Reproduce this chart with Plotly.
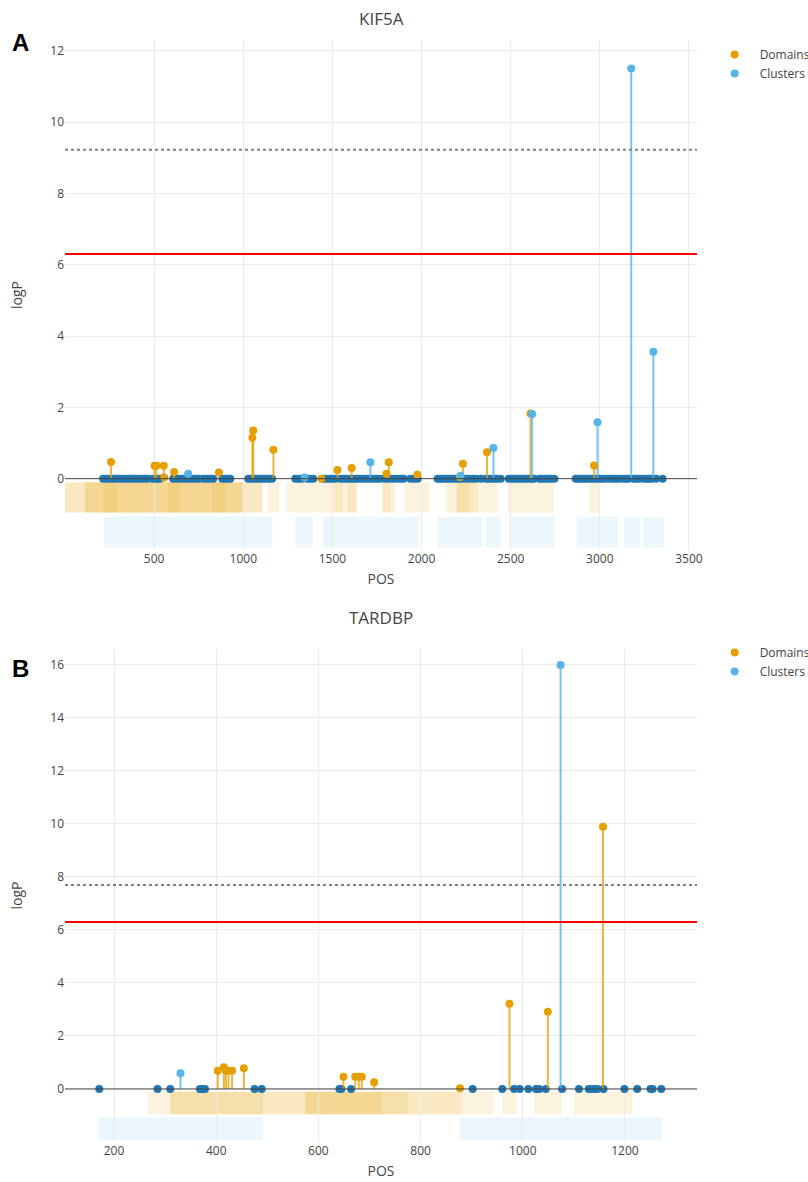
import plotly.graph_objects as go

# ---------------- DATA ----------------
# Panel A: KIF5A
a_base_pos = [214, 232, 250, 268, 286, 304, 322, 340, 358, 376, 394, 412, 430, 448, 461,
              489, 505, 520, 534, 607, 625, 643, 661, 679, 697, 715, 731, 747,
              775, 793, 812, 831, 882, 897, 912, 927, 1028, 1041, 1054, 1067,
              1084, 1100, 1116, 1132, 1148, 1162, 1292, 1310, 1328, 1360, 1377, 1393,
              1449, 1466, 1483, 1500, 1517, 1545, 1562, 1579, 1596, 1613, 1630, 1647,
              1664, 1681, 1698, 1715, 1732, 1749, 1766, 1790, 1810, 1830, 1850, 1870,
              1885, 1899, 1938, 1958, 1978, 2090, 2105, 2120, 2135, 2150, 2165, 2180,
              2195, 2210, 2225, 2245, 2265, 2285, 2303, 2331, 2359, 2375, 2391, 2407,
              2423, 2444, 2489, 2505, 2521, 2537, 2553, 2569, 2585, 2601, 2617, 2629,
              2660, 2676, 2692, 2708, 2725, 2745, 2865, 2880, 2895, 2910, 2925, 2940,
              2955, 2970, 2985, 3000, 3015, 3035, 3055, 3075, 3090, 3105, 3129, 3145,
              3160, 3190, 3205, 3219, 3242, 3258, 3274, 3290, 3315, 3352]
a_dom_pos = [258, 502, 513, 554, 556, 612, 863, 1051, 1056, 1169, 1438, 1528, 1608,
             1803, 1816, 1976, 2215, 2232, 2367, 2611, 2968]
a_dom_val = [0.47, 0.36, 0.36, 0.36, 0.03, 0.19, 0.17, 1.15, 1.35, 0.81, 0.0, 0.24, 0.30,
             0.14, 0.46, 0.11, 0.05, 0.42, 0.74, 1.83, 0.37]
a_clu_pos = [691, 1344, 1713, 2219, 2403, 2620, 2987, 3176, 3300]
a_clu_val = [0.14, 0.03, 0.46, 0.08, 0.86, 1.81, 1.58, 11.5, 3.56]
a_dom_start = [0, 0, 112, 112, 214, 579, 826, 1135, 1242, 1506, 1584, 1781, 1781,
               1904, 2135, 2197, 2197, 2483, 2938]
a_dom_end = [1107, 1107, 994, 994, 292, 646, 899, 1202, 1635, 1556, 1635, 1854, 1826,
             2045, 2427, 2270, 2315, 2742, 3000]
a_clu_start = [219, 1292, 1444, 2090, 2359, 2489, 2871, 3135, 3242]
a_clu_end = [1163, 1393, 1983, 2337, 2444, 2747, 3101, 3224, 3360]
a_sig_dashed = 9.22
a_sig_red = 6.3

# Panel B: TARDBP
b_base_pos = [171, 285, 310, 368, 373, 378, 475, 489, 641, 645, 664, 902, 960, 983, 994,
              1011, 1026, 1029, 1032, 1045, 1077, 1110, 1129, 1135, 1140, 1146, 1158,
              1199, 1224, 1250, 1254, 1271]
b_dom_pos = [403, 415, 419, 424, 431, 454, 649, 672, 679, 685, 709, 877, 974, 1049, 1157]
b_dom_val = [0.69, 0.82, 0.69, 0.69, 0.69, 0.78, 0.46, 0.46, 0.46, 0.46, 0.25, 0.03,
             3.22, 2.91, 9.89]
b_clu_pos = [330, 1074]
b_clu_val = [0.59, 16.0]
b_dom_start = [265, 310, 310, 574, 574, 959, 1022, 1100]
b_dom_end = [943, 880, 492, 776, 724, 988, 1077, 1214]
b_clu_start = [169, 876]
b_clu_end = [491, 1273]
b_sig_dashed = 7.70
b_sig_red = 6.3

genes = ["KIF5A", "TARDBP"]
panel_letters = ["A", "B"]
a_xticks = [500, 1000, 1500, 2000, 2500, 3000, 3500]
b_xticks = [200, 400, 600, 800, 1000, 1200]

# ---------------- STYLE ----------------
ORANGE = "#E69F00"
LBLUE = "#56B4E9"
DBLUE = "#1F77B4"

W, H = 808, 1182
ML, MR, MT, MB = 65, 111, 40, 40
ph = H - MT - MB


def pfy(px):
    return (H - MB - px) / ph


fig = go.Figure()


def stems(pos, val):
    xs, ys = [], []
    for p, v in zip(pos, val):
        xs += [p, p, None]
        ys += [0, v, None]
    return xs, ys


panels = [
    dict(xa="x", ya="y", base=a_base_pos, dp=a_dom_pos, dv=a_dom_val, cp=a_clu_pos,
         cv=a_clu_val, ds=a_dom_start, de=a_dom_end, cs=a_clu_start, ce=a_clu_end,
         dash=a_sig_dashed, red=a_sig_red, legend="legend"),
    dict(xa="x2", ya="y2", base=b_base_pos, dp=b_dom_pos, dv=b_dom_val, cp=b_clu_pos,
         cv=b_clu_val, ds=b_dom_start, de=b_dom_end, cs=b_clu_start, ce=b_clu_end,
         dash=b_sig_dashed, red=b_sig_red, legend="legend2"),
]

shapes = []
for P in panels:
    xa, ya = P["xa"], P["ya"]
    # baseline points
    fig.add_trace(go.Scatter(x=P["base"], y=[0] * len(P["base"]), mode="markers",
                             marker=dict(color=DBLUE, size=8), showlegend=False,
                             xaxis=xa, yaxis=ya, hoverinfo="x"))
    # stems
    sx, sy = stems(P["dp"], P["dv"])
    fig.add_trace(go.Scatter(x=sx, y=sy, mode="lines",
                             line=dict(color="rgba(230,159,0,0.75)", width=2),
                             showlegend=False, xaxis=xa, yaxis=ya, hoverinfo="skip"))
    sx, sy = stems(P["cp"], P["cv"])
    fig.add_trace(go.Scatter(x=sx, y=sy, mode="lines",
                             line=dict(color="rgba(86,180,233,0.8)", width=2),
                             showlegend=False, xaxis=xa, yaxis=ya, hoverinfo="skip"))
    fig.add_trace(go.Scatter(x=P["dp"], y=P["dv"], mode="markers", name="Domains",
                             marker=dict(color=ORANGE, size=8), legend=P["legend"],
                             xaxis=xa, yaxis=ya))
    fig.add_trace(go.Scatter(x=P["cp"], y=P["cv"], mode="markers", name="Clusters",
                             marker=dict(color=LBLUE, size=8), legend=P["legend"],
                             xaxis=xa, yaxis=ya))
    xd = xa + " domain"
    for s, e in zip(P["ds"], P["de"]):
        shapes.append(dict(type="rect", xref=xa, yref=ya, x0=s, x1=e, y0=-0.1, y1=-0.95,
                           fillcolor=ORANGE, opacity=0.13, line=dict(width=0), layer="below"))
    for s, e in zip(P["cs"], P["ce"]):
        shapes.append(dict(type="rect", xref=xa, yref=ya, x0=s, x1=e, y0=-1.07, y1=-1.92,
                           fillcolor=LBLUE, opacity=0.11, line=dict(width=0), layer="below"))
    shapes.append(dict(type="line", xref=xd, yref=ya, x0=0, x1=1, y0=0, y1=0,
                       line=dict(color="#444444", width=1)))
    shapes.append(dict(type="line", xref=xd, yref=ya, x0=0, x1=1, y0=P["dash"], y1=P["dash"],
                       line=dict(color="#808080", width=2, dash="dot")))
    shapes.append(dict(type="line", xref=xd, yref=ya, x0=0, x1=1, y0=P["red"], y1=P["red"],
                       line=dict(color="red", width=2)))

axis_common = dict(showgrid=True, gridcolor="#ebebeb", zeroline=False, ticks="",
                   showline=False, automargin=False, tickfont=dict(size=12, color="#444"))

annotations = []
title_px = [18, 617]
letter_px = [42, 668]
for i, (g, L) in enumerate(zip(genes, panel_letters)):
    annotations.append(dict(text=g, xref="paper", yref="paper", x=0.5, y=pfy(title_px[i]),
                            showarrow=False, xanchor="center", yanchor="middle",
                            font=dict(size=17, color="#444")))
    annotations.append(dict(text="<b>" + L + "</b>", xref="paper", yref="paper",
                            x=(20 - ML) / (W - ML - MR), y=pfy(letter_px[i]), showarrow=False,
                            xanchor="center", yanchor="middle",
                            font=dict(size=24, color="black", family="Liberation Sans, Arial")))

fig.update_layout(
    width=W, height=H,
    margin=dict(l=ML, r=MR, t=MT, b=MB, autoexpand=False),
    paper_bgcolor="white", plot_bgcolor="white",
    font=dict(family="Open Sans, sans-serif", color="#444"),
    shapes=shapes, annotations=annotations,
    xaxis=dict(domain=[0, 1], anchor="y", range=[0, 3545], tickvals=a_xticks,
               title=dict(text="POS", font=dict(size=14), standoff=8), **axis_common),
    yaxis=dict(domain=[pfy(550), 1], anchor="x", range=[-2.0, 12.3],
               tickvals=[0, 2, 4, 6, 8, 10, 12],
               title=dict(text="logP", font=dict(size=14), standoff=24), **axis_common),
    xaxis2=dict(domain=[0, 1], anchor="y2", range=[104, 1341], tickvals=b_xticks,
                title=dict(text="POS", font=dict(size=14), standoff=8), **axis_common),
    yaxis2=dict(domain=[0, pfy(649)], anchor="x2", range=[-2.0, 16.6],
                tickvals=[0, 2, 4, 6, 8, 10, 12, 14, 16],
                title=dict(text="logP", font=dict(size=14), standoff=24), **axis_common),
    legend=dict(x=1.02, y=1.0, xanchor="left", yanchor="top", itemwidth=40,
                font=dict(size=12, color="#444")),
    legend2=dict(x=1.02, y=pfy(638), xanchor="left", yanchor="top", itemwidth=40,
                 font=dict(size=12, color="#444")),
)

fig.write_html("out.html")
